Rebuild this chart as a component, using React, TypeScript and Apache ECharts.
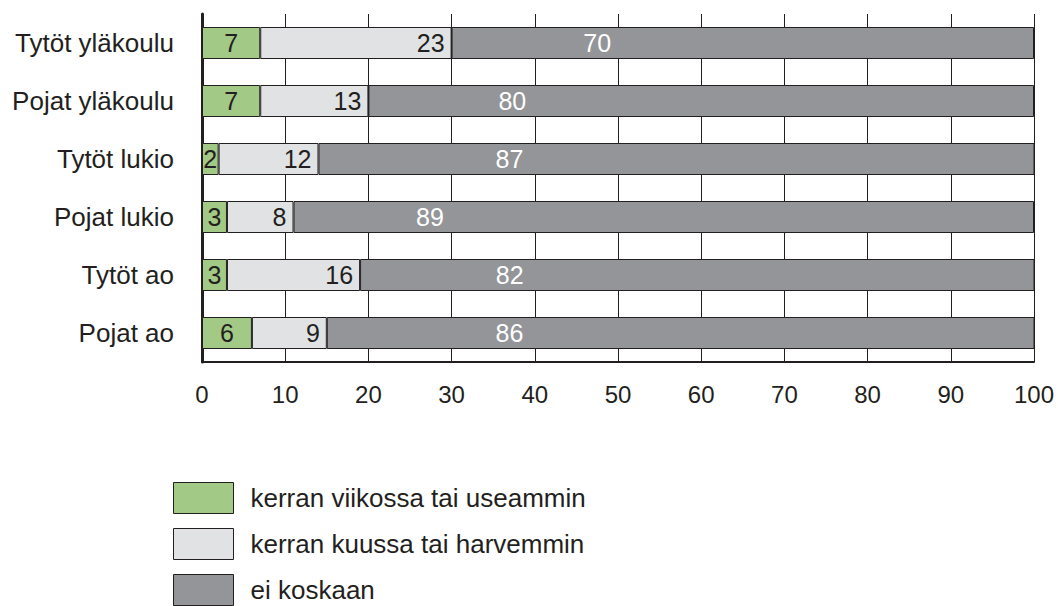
import React, { useEffect, useRef } from "react";
import * as echarts from "echarts";

const categories = ["Tytöt yläkoulu", "Pojat yläkoulu", "Tytöt lukio", "Pojat lukio", "Tytöt ao", "Pojat ao"];
const weekly = [7, 7, 2, 3, 3, 6];
const monthly = [23, 13, 12, 8, 16, 9];
const never = [70, 80, 87, 89, 82, 86];
const seriesNames = ["kerran viikossa tai useammin", "kerran kuussa tai harvemmin", "ei koskaan"];
const xTicks = [0, 10, 20, 30, 40, 50, 60, 70, 80, 90, 100];
// where (in axis units) the white labels of the dark segments sit
const neverLabelAt = [47.5, 37.3, 37.2, 27.4, 37.2, 37.2];

const INK = "#231f20";
const FONT = "'Liberation Sans', Arial, Helvetica, sans-serif";

export default function App() {
  const ref = useRef<HTMLDivElement>(null);
  useEffect(() => {
    document.body.style.margin = "0";
    const chart = echarts.init(ref.current!, null, { renderer: "svg" });
    const border = { borderColor: INK, borderWidth: 1 };
    chart.setOption({
      animation: false,
      textStyle: { fontFamily: FONT },
      grid: { left: 202, right: 24, top: 14, bottom: 244 },
      xAxis: {
        type: "value",
        min: xTicks[0],
        max: xTicks[xTicks.length - 1],
        interval: 10,
        axisLine: { show: true, lineStyle: { color: INK, width: 2 } },
        axisTick: { show: false },
        axisLabel: { color: INK, fontSize: 24, margin: 20, fontFamily: FONT },
        splitLine: { show: true, lineStyle: { color: INK, width: 1 } },
      },
      yAxis: {
        type: "category",
        data: categories,
        inverse: true,
        axisLine: { show: true, lineStyle: { color: INK, width: 3 } },
        axisTick: { show: false },
        axisLabel: { color: INK, fontSize: 26, margin: 28, fontFamily: FONT },
        splitLine: { show: false },
      },
      legend: {
        orient: "vertical",
        left: 173,
        top: 482,
        height: 130,
        padding: 0,
        itemWidth: 60,
        itemHeight: 31,
        itemGap: 14,
        icon: "rect",
        itemStyle: { borderColor: INK, borderWidth: 1 },
        textStyle: { color: INK, fontSize: 26, lineHeight: 31, fontFamily: FONT, padding: [0, 0, 0, 12] },
        data: seriesNames,
      },
      series: [
        {
          name: seriesNames[0],
          type: "bar",
          stack: "total",
          barWidth: 32,
          itemStyle: { color: "#a3c986", ...border },
          label: { show: true, position: "inside", color: INK, fontSize: 25, fontFamily: FONT },
          data: weekly,
        },
        {
          name: seriesNames[1],
          type: "bar",
          stack: "total",
          barWidth: 32,
          itemStyle: { color: "#e1e2e4", ...border },
          label: { show: true, position: "insideRight", distance: 7, color: INK, fontSize: 25, fontFamily: FONT },
          data: monthly,
        },
        {
          name: seriesNames[2],
          type: "bar",
          stack: "total",
          barWidth: 32,
          itemStyle: { color: "#939598", ...border },
          data: never.map((v, i) => {
            const start = weekly[i] + monthly[i];
            const pct = ((neverLabelAt[i] - start) / v) * 100;
            return {
              value: v,
              label: {
                show: true,
                position: [pct + "%", "50%"],
                align: "center",
                verticalAlign: "middle",
                color: "#ffffff",
                fontSize: 25,
                fontFamily: FONT,
              },
            };
          }),
        },
      ],
    });
    return () => chart.dispose();
  }, []);
  return <div ref={ref} style={{ width: 1058, height: 606 }} />;
}
